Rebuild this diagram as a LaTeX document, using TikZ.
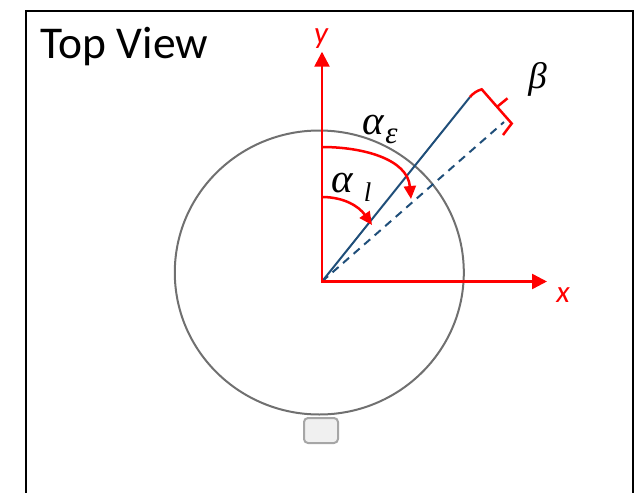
\RequirePackage{fix-cm}
\documentclass[tikz,border=0pt]{standalone}
\usepackage{fontspec}
\setmainfont{Carlito}
\newfontfamily\greekfont{Liberation Serif}
\usetikzlibrary{arrows.meta,shapes.geometric}
\definecolor{axisred}{RGB}{255,0,0}
\definecolor{lineblue}{RGB}{31,78,121}
\definecolor{ringgray}{RGB}{112,112,112}
\definecolor{boxfill}{RGB}{240,240,240}
\definecolor{boxedge}{RGB}{166,166,166}
\begin{document}
\begin{tikzpicture}[x=1pt,y=-1pt,
  axisline/.style={axisred, line width=2.5pt, line join=miter},
  bigtip/.tip={Triangle[length=15pt,width=15pt]},
  arcline/.style={axisred, line width=2.5pt, -{Triangle[length=13pt,width=12pt]}},
  blueline/.style={lineblue, line width=2pt},
  lab/.style={inner sep=0pt},
  axlab/.style={inner sep=0pt, anchor=base, text=axisred, font=\fontsize{31}{36}\selectfont\itshape}]
\useasboundingbox (0,0) rectangle (641,493);
% frame
\draw[line width=2pt] (25.5,493) -- (25.5,10.5) -- (632.7,10.5) -- (632.7,493);
\node[lab, anchor=base west, font=\fontsize{45.5}{50}\selectfont] (title) at (40.5,58.3) {Top View};
% ring and pod
\node[ellipse, draw=ringgray, line width=2pt, minimum width=289pt, minimum height=284pt, inner sep=0pt] (ring) at (319.3,272.5) {};
\node[draw=boxedge, fill=boxfill, rounded corners=4pt, minimum width=34pt, minimum height=25pt, line width=2pt, inner sep=0pt] (pod) at (321,430.5) {};
% coordinates
\coordinate (O) at (322,281.5);
\coordinate (Ytip) at (322,51.7);
\coordinate (Xtip) at (547,281.5);
\coordinate (Lend) at (470,97);
\coordinate (Dend) at (504,122);
\coordinate (Ae0) at (322,147);
\coordinate (Ae1) at (411,199);
\coordinate (Al0) at (322,197);
\coordinate (Al1) at (372,225);
\coordinate (B1) at (481.7,89.3);
\coordinate (B2) at (511.7,123.5);
\coordinate (B3) at (503,135);
\coordinate (Bm) at (497.5,106.5);
\coordinate (Bt) at (507.5,98.3);
% lines
\draw[blueline] (O) -- (Lend);
\draw[blueline, dash pattern=on 8pt off 6pt] (O) -- (Dend);
\draw[axisline, {bigtip}-{bigtip}] (Ytip) -- (O) -- (Xtip);
\draw[arcline] (Ae0) to[out=0,in=95] (Ae1);
\draw[arcline] (Al0) to[out=0,in=125] (Al1);
% bracket
\draw[axisred, line width=2.5pt, line join=miter] (Lend) to[bend left=15] (B1) -- (B2) -- (B3);
\draw[axisred, line width=2.5pt] (Bm) -- (Bt);
% labels
\node[axlab] (xl) at (563,302) {x};
\node[axlab] (yl) at (321,43) {y};
\node[lab, font=\greekfont\itshape\fontsize{41}{45}\selectfont] (ae) at (373,125) {α};
\node[lab, font=\greekfont\itshape\fontsize{31}{35}\selectfont] (aesub) at (391.5,136) {ε};
\node[lab, font=\greekfont\itshape\fontsize{41}{45}\selectfont] (al) at (342.5,183.5) {α};
\node[lab, font=\greekfont\itshape\fontsize{27}{31}\selectfont] (alsub) at (367.5,192.5) {l};
\node[lab, font=\greekfont\itshape\fontsize{37}{41}\selectfont] (beta) at (537.5,79) {β};
\end{tikzpicture}
\end{document}
